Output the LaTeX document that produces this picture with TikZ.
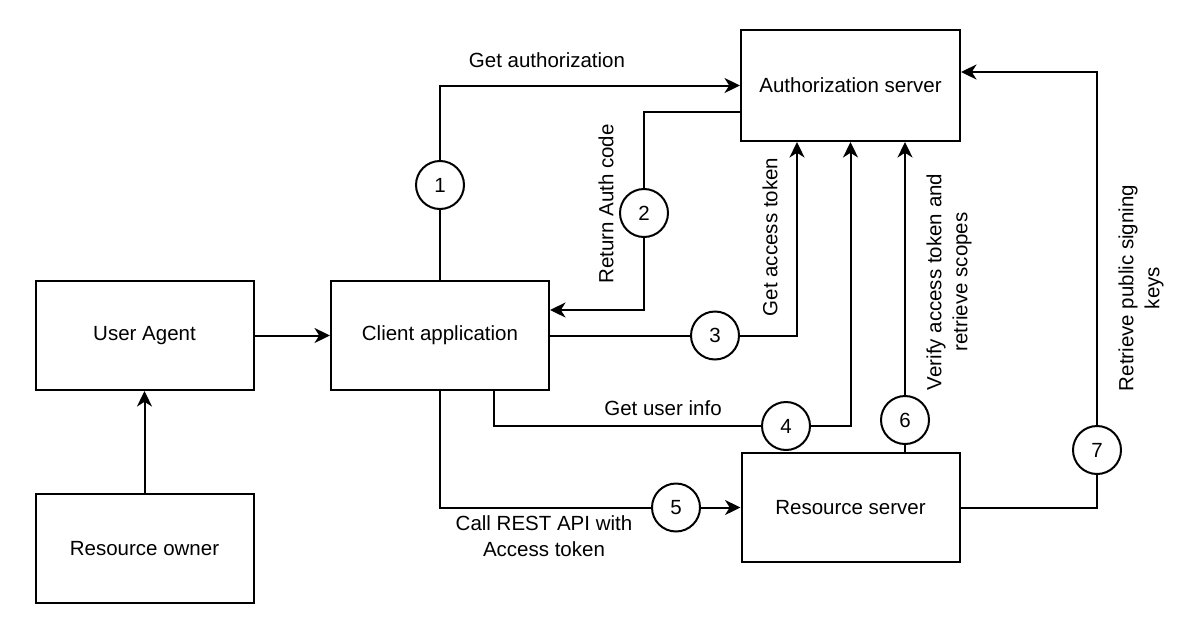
\documentclass[tikz,border=0pt]{standalone}
\usepackage{fontspec}
\setmainfont{Liberation Sans}
\usetikzlibrary{arrows.meta}
\begin{document}
\begin{tikzpicture}[x=1pt,y=-1pt,
  every node/.style={font=\fontsize{20.5}{26}\selectfont},
  box/.style={draw,line width=2pt,minimum width=218pt,minimum height=109pt,inner sep=0pt},
  num/.style={draw,circle,fill=white,line width=2pt,minimum size=48pt,inner sep=0pt},
  lbl/.style={align=center,inner sep=0pt},
  conn/.style={line width=2pt},
  arr/.style={conn,-{Stealth[length=15.5pt,width=15pt,inset=4.7pt]}}]
\useasboundingbox (0,0) rectangle (1204,637);
% boxes
\node[box,minimum width=219pt,minimum height=111pt] (auth) at (850.5,85.5) {Authorization server};
\node[box] (ua) at (144.5,335.5) {User Agent};
\node[box] (client) at (440,335.5) {Client application};
\node[box] (owner) at (144.5,548.5) {Resource owner};
\node[box] (rs) at (850.5,507.5) {Resource server};
% numbered circles
\node[num] (c1) at (440,185) {1};
\node[num] (c2) at (644,213) {2};
\node[num] (c3) at (715,335.5) {3};
\node[num] (c4) at (786,426) {4};
\node[num] (c5) at (676,507.5) {5};
\node[num] (c6) at (905,420) {6};
\node[num] (c7) at (1097,450) {7};
% connectors
\draw[arr] (ua) -- (client);
\draw[arr] (owner) -- (ua);
\draw[conn] (client.north) -- (c1);
\draw[arr] (c1) |- (auth.west);
\draw[conn] ([yshift=-26.5pt]auth.west) -| (c2);
\draw[arr] (c2) |- ([yshift=25.5pt]client.east);
\draw[conn] (client.east) -- (c3);
\draw[arr] (c3) -| ([xshift=-53.5pt]auth.south);
\draw[conn] ([xshift=54pt]client.south) |- (c4);
\draw[arr] (c4) -| (auth.south);
\draw[conn] (client.south) |- (c5);
\draw[arr] (c5) -- (rs.west);
\draw[conn] ([xshift=54.5pt]rs.north) -- (c6);
\draw[arr] (c6) -- (c6 |- auth.south);
\draw[conn] (rs.east) -| (c7);
\draw[arr] (c7) |- ([yshift=13.5pt]auth.east);
% labels
\node[lbl] (l1) at (547,60) {Get authorization};
\node[lbl,rotate=90] (l2) at (606,204) {Return Auth code};
\node[lbl,rotate=90] (l3) at (770,237) {Get access token};
\node[lbl] (l4) at (663,408) {Get user info};
\node[lbl] (l5) at (544,536) {Call REST API with\\Access token};
\node[lbl,rotate=90] (l6) at (949,282) {Verify access token and\\retrieve scopes};
\node[lbl,rotate=90] (l7) at (1141,288) {Retrieve public signing\\keys};
\end{tikzpicture}
\end{document}
